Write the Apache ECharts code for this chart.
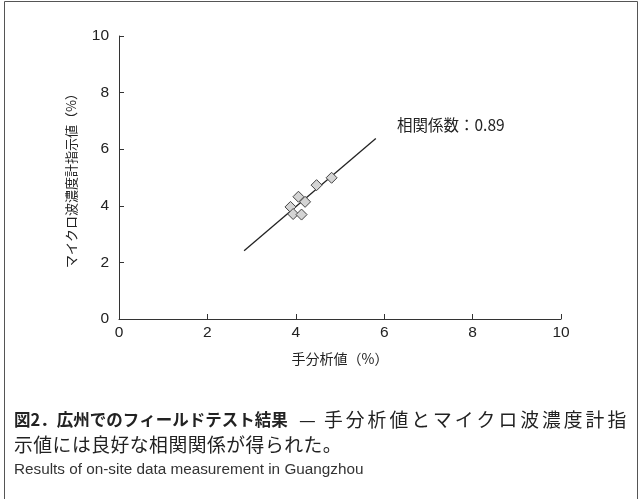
<!DOCTYPE html>
<html>
<head>
<meta charset="utf-8">
<script src="https://cdn.jsdelivr.net/npm/echarts@6/dist/echarts.min.js"></script>
<style>
  html, body { margin: 0; padding: 0; background: #fff; }
  #chart { width: 642px; height: 499px; }
</style>
</head>
<body>
<div id="chart"></div>
<script>
// measured points: hand analysis (x) vs microwave meter (y), %
const handValues = [4.81, 4.47, 4.06, 4.21, 3.88, 3.94, 4.13];
const meterValues = [4.99, 4.73, 4.32, 4.14, 3.96, 3.71, 3.69];
// regression line end points
const fitX = [2.83, 5.81];
const fitY = [2.41, 6.38];
const tickValues = [0, 2, 4, 6, 8, 10];

const corrText = '相関係数：0.89';
const captionBold = '図2．広州でのフィールドテスト結果';
const captionRest = '手分析値とマイクロ波濃度計指';
const captionLine2 = '示値には良好な相関関係が得られた。';
const captionEn = 'Results of on-site data measurement in Guangzhou';

const jpFont = '"Noto Sans CJK JP", "Liberation Sans", sans-serif';

// justified line: every char gets the same box width
function justify(str) {
  return str.split('').map(c => '{c|' + c + '}').join('');
}

const axisCommon = {
  type: 'value',
  min: tickValues[0],
  max: tickValues[tickValues.length - 1],
  interval: 2,
  splitLine: { show: false },
  axisLine: { show: true, lineStyle: { color: '#333', width: 1 } },
  axisTick: { show: true, inside: true, length: 5, lineStyle: { color: '#333' } },
  axisLabel: { color: '#222', fontSize: 15.5, fontFamily: 'Liberation Sans' },
  nameTextStyle: { color: '#222', fontSize: 14, fontFamily: jpFont }
};

const option = {
  backgroundColor: '#fff',
  animation: false,
  grid: { left: 119, right: 81, top: 36, bottom: 180 },
  xAxis: Object.assign({}, axisCommon, {
    name: '手分析値（%）',
    nameLocation: 'middle',
    nameGap: 33,
    axisLabel: Object.assign({}, axisCommon.axisLabel, { margin: 6 })
  }),
  yAxis: Object.assign({}, axisCommon, {
    name: 'マイクロ波濃度計指示値（%）',
    nameLocation: 'middle',
    nameGap: 41,
    nameTextStyle: Object.assign({}, axisCommon.nameTextStyle, { fontSize: 13 }),
    axisLabel: Object.assign({}, axisCommon.axisLabel, { margin: 10 })
  }),
  series: [
    {
      type: 'line',
      data: fitX.map((x, i) => [x, fitY[i]]),
      showSymbol: false,
      lineStyle: { color: '#222', width: 1.3 },
      z: 2
    },
    {
      type: 'scatter',
      data: handValues.map((x, i) => [x, meterValues[i]]),
      symbol: 'diamond',
      symbolSize: 11,
      itemStyle: { color: '#d4d4d4', borderColor: '#444', borderWidth: 1, opacity: 1 },
      z: 3
    }
  ],
  graphic: [
    {
      type: 'rect',
      shape: { x: 4.5, y: 1.5, width: 633, height: 500 },
      style: { fill: 'none', stroke: '#555', lineWidth: 1 },
      silent: true
    },
    {
      type: 'text',
      left: 397, top: 117,
      style: { text: corrText, fontSize: 15.5, fill: '#222', fontFamily: jpFont }
    },
    {
      type: 'text',
      left: 14, top: 411,
      style: { text: captionBold, fontSize: 16.5, fontWeight: 'bold', fill: '#222', fontFamily: jpFont }
    },
    {
      type: 'text',
      left: 299, top: 410,
      style: { text: '—', fontSize: 18.8, fill: '#222', fontFamily: jpFont }
    },
    {
      type: 'text',
      left: 324, top: 410,
      style: {
        text: justify(captionRest),
        fill: '#222',
        rich: { c: { width: 21.8, align: 'left', fontSize: 18.8, fontFamily: jpFont, fill: '#222' } }
      }
    },
    {
      type: 'text',
      left: 14, top: 435,
      style: {
        text: justify(captionLine2),
        fill: '#222',
        rich: { c: { width: 19.3, align: 'left', fontSize: 18.8, fontFamily: jpFont, fill: '#222' } }
      }
    },
    {
      type: 'text',
      left: 14, top: 462,
      style: { text: captionEn, fontSize: 15.3, fill: '#333', fontFamily: 'Liberation Sans, sans-serif' }
    }
  ]
};

const chart = echarts.init(document.getElementById('chart'));
chart.setOption(option);

window.addEventListener('resize', function () {
  chart.resize();
});
</script>
</body>
</html>
